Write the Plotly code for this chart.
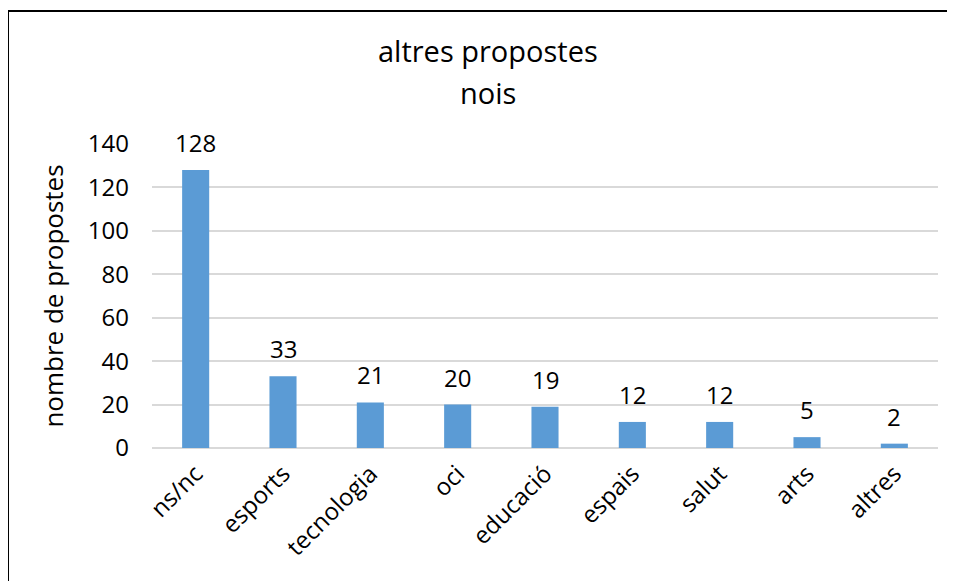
import plotly.graph_objects as go

categories = ["ns/nc", "esports", "tecnologia", "oci", "educació", "espais", "salut", "arts", "altres"]
values = [128, 33, 21, 20, 19, 12, 12, 5, 2]
y_ticks = [0, 20, 40, 60, 80, 100, 120, 140]
title_lines = ["altres propostes", "nois"]

FONT = "Open Sans, Noto Sans, sans-serif"

fig = go.Figure(go.Bar(
    x=categories, y=values,
    marker=dict(color="#5B9BD5", line=dict(width=0)),
    cliponaxis=False,
))

label_annotations = [
    dict(text=str(v), x=c, y=v, xref="x", yref="y", xanchor="center", yanchor="bottom",
         yshift=9, showarrow=False, font=dict(size=24, family=FONT, color="#000000"))
    for c, v in zip(categories, values)
]

fig.update_layout(
    width=947, height=573,
    margin=dict(l=144, r=17, t=136, b=133),
    paper_bgcolor="white", plot_bgcolor="white",
    bargap=0.69,
    showlegend=False,
    font=dict(family=FONT, color="#000000"),
    xaxis=dict(tickangle=-45, tickfont=dict(size=24, family=FONT), showgrid=False,
               showline=False, ticks="", ticklabelstandoff=6),
    yaxis=dict(range=[0, 140], tickvals=y_ticks, tickfont=dict(size=24, family=FONT),
               gridcolor="#D9D9D9", gridwidth=1.5, zeroline=True, zerolinecolor="#D9D9D9",
               zerolinewidth=2, showline=False, ticks="", ticklabelstandoff=22,
               title=dict(text="nombre de propostes", font=dict(size=26, family=FONT), standoff=16)),
    shapes=[dict(type="rect", xref="paper", yref="paper", x0=-0.1832, x1=1.04,
                 y0=-0.46, y1=1.4375, line=dict(color="#000000", width=2),
                 fillcolor="rgba(0,0,0,0)", layer="below")],
    annotations=[
        dict(text=title_lines[0], xref="paper", yref="paper", x=0.4275, y=1.306,
             xanchor="center", yanchor="middle", showarrow=False,
             font=dict(size=29, family=FONT, color="#000000")),
        dict(text=title_lines[1], xref="paper", yref="paper", x=0.4275, y=1.170,
             xanchor="center", yanchor="middle", showarrow=False,
             font=dict(size=29, family=FONT, color="#000000")),
    ] + label_annotations,
)

fig.write_html("out.html")
